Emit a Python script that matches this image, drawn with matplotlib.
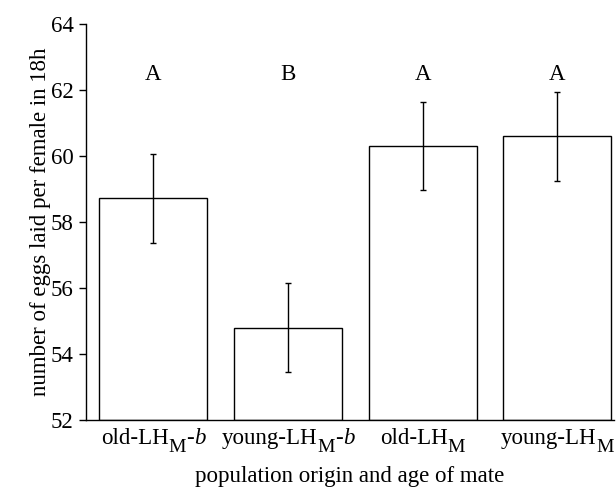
import matplotlib
matplotlib.use("Agg")
import matplotlib.pyplot as plt
import matplotlib.transforms as mtransforms
import numpy as np

plt.rcParams['font.family'] = ['Liberation Serif', 'DejaVu Serif']

# tick labels as (text, style, size scale, baseline shift in pt)
labels = [
    [('old-LH', 'normal', 1.0, 0), ('M', 'normal', 0.85, -5.5), ('-', 'normal', 1.0, 0), ('b', 'italic', 1.0, 0)],
    [('young-LH', 'normal', 1.0, 0), ('M', 'normal', 0.85, -5.5), ('-', 'normal', 1.0, 0), ('b', 'italic', 1.0, 0)],
    [('old-LH', 'normal', 1.0, 0), ('M', 'normal', 0.85, -5.5)],
    [('young-LH', 'normal', 1.0, 0), ('M', 'normal', 0.85, -5.5)],
]
means = [58.72, 54.8, 60.3, 60.6]
errs = [1.35, 1.35, 1.33, 1.35]
groups = ['A', 'B', 'A', 'A']

fs = 16.5
fig = plt.figure(figsize=(6.16, 4.9), dpi=100)
ax = fig.add_axes([0.1396, 0.1429, 0.857, 0.808])

x = np.arange(len(means))
ax.bar(x, np.array(means) - 52, bottom=52, width=0.8, color='white',
       edgecolor='black', linewidth=1.0)
ax.errorbar(x, means, yerr=errs, fmt='none', ecolor='black',
            elinewidth=1.0, capsize=2.5, capthick=1.0)
for xi, g in zip(x, groups):
    ax.text(xi, 62.3, g, ha='center', va='baseline', fontsize=fs)

ax.set_ylim(52, 64)
ax.set_xlim(-0.5, 3.42)
ax.set_yticks([52, 54, 56, 58, 60, 62, 64])
ax.set_xticks(x)
ax.set_xticklabels([''] * len(x))
ax.tick_params(axis='x', length=0)
ax.tick_params(axis='y', length=5, width=1, labelsize=fs, pad=4)
for s in ['top', 'right']:
    ax.spines[s].set_visible(False)
ax.spines['left'].set_linewidth(1.0)
ax.spines['bottom'].set_linewidth(1.0)
ax.set_xlabel('population origin and age of mate', fontsize=fs)
ax.xaxis.set_label_coords(0.5, -0.117)
ax.set_ylabel('number of eggs laid per female in 18h', fontsize=fs, labelpad=0)

# build the composite tick labels piece by piece
renderer = fig.canvas.get_renderer()
base = ax.get_xaxis_transform()
for xi, pieces in zip(x, labels):
    widths = []
    for txt, style, scale, dy in pieces:
        t = ax.text(0, 0, txt, fontsize=fs * scale, style=style)
        widths.append(t.get_window_extent(renderer).width * 72 / fig.dpi)
        t.remove()
    off = -sum(widths) / 2
    for (txt, style, scale, dy), w in zip(pieces, widths):
        tr = mtransforms.offset_copy(base, fig=fig, x=off, y=-17.5 + dy, units='points')
        ax.text(xi, 0, txt, fontsize=fs * scale, style=style, transform=tr,
                ha='left', va='baseline', clip_on=False)
        off += w

fig.savefig('out.png', dpi=100)
